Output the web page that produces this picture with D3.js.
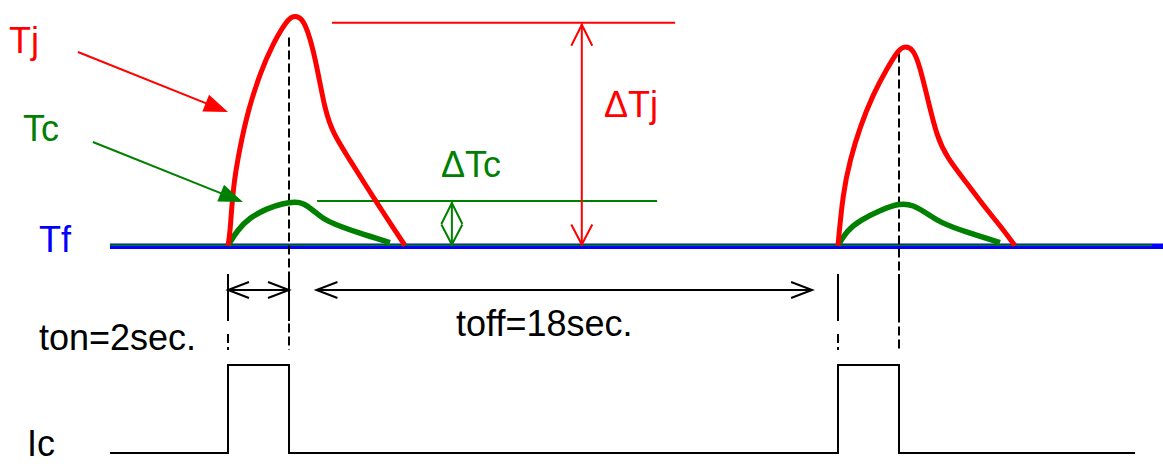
<!DOCTYPE html>
<html>
<head>
<meta charset="utf-8">
<script src="https://cdn.jsdelivr.net/npm/d3@7"></script>
<style>
  html, body { margin: 0; padding: 0; background: #fff; }
  svg { display: block; }
  text { font-family: "Liberation Sans", Arial, sans-serif; font-size: 36px; }
</style>
</head>
<body>
<svg id="chart" width="1163" height="464"></svg>
<script>
// Time in seconds (pulse 1 switches on at t = 0, pulse 2 at t = 20)
// Temperature rise above Tf in relative units (0 = Tf, 100 = Tj peak)

const tjPulse1 = [
  [0, 0], [0.07, 5.3], [0.16, 25.4], [0.39, 43], [0.66, 59.2], [1.05, 75.4],
  [1.48, 88.6], [1.93, 98.5], [2.13, 100.5], [2.43, 100], [2.69, 91.2],
  [2.92, 78.1], [3.18, 59.2], [3.44, 49.1], [4.0, 37.3], [4.56, 25.4],
  [4.98, 16.7], [5.41, 7.9], [5.8, 0]
];
const tjPulse2 = [
  [20, 0], [20.16, 22.8], [20.39, 37.3], [20.72, 51.8], [21.15, 66.2],
  [21.61, 77.5], [21.93, 84.5], [22.13, 87.3], [22.46, 86.5], [22.69, 78.1],
  [22.95, 63.6], [23.25, 47.4], [23.57, 38.6], [24.23, 27.2], [24.89, 15.4],
  [25.31, 8.8], [25.8, 0]
];
const tcPulse1 = [
  [0, 0], [0.3, 6.6], [0.72, 12.3], [1.28, 16.2], [1.8, 18.4], [2.2, 19.1],
  [2.46, 18.6], [2.79, 15.4], [3.11, 11.8], [3.44, 9.6], [4.23, 5.7], [5.31, 1.3]
];
const tcPulse2 = [
  [20, 0], [20.3, 6.6], [20.72, 11], [21.38, 15.4], [22.03, 18.6], [22.46, 17.8],
  [22.92, 14], [23.34, 10.1], [24.23, 5.7], [25.31, 1.3]
];
// Collector current: off / on steps
const icSteps = [[-3.87, 0], [0, 1], [2, 0], [20, 1], [22, 0], [29.74, 0]];

const tfSpan = [-3.87, 30.7];
const tcTrace = [-3.87, 30.3];

const deltaTjLevel = 97.5, deltaTjSpan = [3.41, 14.66], deltaTjAt = 11.6;
const deltaTcLevel = 19.5, deltaTcSpan = [2.92, 14.07], deltaTcAt = 7.34;

const onTimes = [0, 20];
const offTimes = [2, 22];
const offDashTop = [91, 84];

const tonSpan = [0, 2];
const toffSpan = [2.9, 19.15];

// pointer arrows from the Tj / Tc labels: [tail, tip]
const tjPointer = [[-4.92, 84.7], [0, 58.4]];
const tcPointer = [[-4.43, 45.3], [0.49, 19.0]];

const labels = ["Tj", "Tc", "Tf", "\u0394Tj", "\u0394Tc", "ton=2sec.", "toff=18sec.", "Ic"];

const RED = "#ff0000", GREEN = "#008000", BLUE = "#0000ff", BLACK = "#000";

const svg = d3.select("#chart");
const x = d3.scaleLinear().domain([0, 20]).range([228, 838]);
const yT = d3.scaleLinear().domain([0, 100]).range([245.5, 17]);
const yIc = d3.scaleLinear().domain([0, 1]).range([453, 365]);

const curve = d3.line().x(d => x(d[0])).y(d => yT(d[1])).curve(d3.curveBasis);

// open chevron head at (px, py) pointing along angle a
function chevron(px, py, a, len, half) {
  const ux = Math.cos(a), uy = Math.sin(a);
  const bx = px - ux * len, by = py - uy * len;
  return `M${bx - uy * half},${by + ux * half}L${px},${py}L${bx + uy * half},${by - ux * half}`;
}
function filledHead(px, py, a, len, half) {
  const ux = Math.cos(a), uy = Math.sin(a);
  const bx = px - ux * len, by = py - uy * len;
  return `M${bx - uy * half},${by + ux * half}L${px},${py}L${bx + uy * half},${by - ux * half}Z`;
}

// Tf baseline
svg.append("line")
  .attr("x1", x(tfSpan[0])).attr("x2", x(tfSpan[1]))
  .attr("y1", yT(0) + 0.8).attr("y2", yT(0) + 0.8)
  .attr("stroke", BLUE).attr("stroke-width", 5.5);
svg.append("line")
  .attr("x1", x(tcTrace[0])).attr("x2", x(tcTrace[1]))
  .attr("y1", yT(0) - 0.2).attr("y2", yT(0) - 0.2)
  .attr("stroke", GREEN).attr("stroke-width", 1.6);

// delta reference lines
svg.append("line")
  .attr("x1", x(deltaTjSpan[0])).attr("x2", x(deltaTjSpan[1]))
  .attr("y1", yT(deltaTjLevel)).attr("y2", yT(deltaTjLevel))
  .attr("stroke", RED).attr("stroke-width", 2);
svg.append("line")
  .attr("x1", x(deltaTcSpan[0])).attr("x2", x(deltaTcSpan[1]))
  .attr("y1", yT(deltaTcLevel)).attr("y2", yT(deltaTcLevel))
  .attr("stroke", GREEN).attr("stroke-width", 2);

// double-headed delta arrows
function vArrow(t, v0, v1, color) {
  const px = x(t), yTop = yT(v0), yBot = yT(v1);
  svg.append("line").attr("x1", px).attr("x2", px)
    .attr("y1", yTop + 1).attr("y2", yBot - 1)
    .attr("stroke", color).attr("stroke-width", 2);
  svg.append("path").attr("d", chevron(px, yTop + 2, -Math.PI / 2, 21, 10.5))
    .attr("fill", "none").attr("stroke", color).attr("stroke-width", 2);
  svg.append("path").attr("d", chevron(px, yBot - 1, Math.PI / 2, 20, 10.5))
    .attr("fill", "none").attr("stroke", color).attr("stroke-width", 2);
}
vArrow(deltaTjAt, deltaTjLevel, 0, RED);
vArrow(deltaTcAt, deltaTcLevel, 0, GREEN);

// dashed on/off markers
offTimes.forEach((t, i) => {
  svg.append("line").attr("x1", x(t)).attr("x2", x(t))
    .attr("y1", yT(offDashTop[i])).attr("y2", 350)
    .attr("stroke", BLACK).attr("stroke-width", 2).attr("stroke-dasharray", "9,4");
  svg.append("line").attr("x1", x(t)).attr("x2", x(t))
    .attr("y1", 274).attr("y2", 321)
    .attr("stroke", BLACK).attr("stroke-width", 2);
});
onTimes.forEach(t => {
  svg.append("line").attr("x1", x(t)).attr("x2", x(t))
    .attr("y1", 274).attr("y2", 350)
    .attr("stroke", BLACK).attr("stroke-width", 2)
    .attr("stroke-dasharray", "47,13,9,4,3,100");
});

// ton / toff arrows
function hArrow(t0, t1, yPos) {
  const a = x(t0), b = x(t1);
  svg.append("line").attr("x1", a).attr("x2", b).attr("y1", yPos).attr("y2", yPos)
    .attr("stroke", BLACK).attr("stroke-width", 2);
  svg.append("path").attr("d", chevron(a, yPos, Math.PI, 21, 8))
    .attr("fill", "none").attr("stroke", BLACK).attr("stroke-width", 2);
  svg.append("path").attr("d", chevron(b, yPos, 0, 21, 8))
    .attr("fill", "none").attr("stroke", BLACK).attr("stroke-width", 2);
}
hArrow(tonSpan[0], tonSpan[1], 290);
hArrow(toffSpan[0], toffSpan[1], 290);

// Tc and Tj traces
[tcPulse1, tcPulse2].forEach(p => {
  svg.append("path").attr("d", curve(p)).attr("fill", "none")
    .attr("stroke", GREEN).attr("stroke-width", 5.5).attr("stroke-linejoin", "round");
});
[tjPulse1, tjPulse2].forEach(p => {
  svg.append("path").attr("d", curve(p)).attr("fill", "none")
    .attr("stroke", RED).attr("stroke-width", 5).attr("stroke-linejoin", "round");
});

// label pointers
function pointer(seg, color) {
  const x0 = x(seg[0][0]), y0 = yT(seg[0][1]), x1 = x(seg[1][0]), y1 = yT(seg[1][1]);
  const a = Math.atan2(y1 - y0, x1 - x0);
  svg.append("line").attr("x1", x0).attr("y1", y0)
    .attr("x2", x1 - Math.cos(a) * 18).attr("y2", y1 - Math.sin(a) * 18)
    .attr("stroke", color).attr("stroke-width", 2);
  svg.append("path").attr("d", filledHead(x1, y1, a, 24, 9)).attr("fill", color);
}
pointer(tjPointer, RED);
pointer(tcPointer, GREEN);

// Ic waveform
svg.append("path")
  .attr("d", d3.line().x(d => x(d[0])).y(d => yIc(d[1])).curve(d3.curveStepAfter)(icSteps))
  .attr("fill", "none").attr("stroke", BLACK).attr("stroke-width", 2);

// text
const textSpec = [
  [labels[0], 9, 53, RED],
  [labels[1], 23, 141, GREEN],
  [labels[2], 39, 252, BLUE],
  [labels[3], 604, 117, RED],
  [labels[4], 441, 177, GREEN],
  [labels[5], 39, 350, BLACK],
  [labels[6], 456, 336, BLACK],
  [labels[7], 27, 456, BLACK]
];
svg.selectAll("text.lbl").data(textSpec).enter().append("text")
  .attr("class", "lbl")
  .attr("x", d => d[1]).attr("y", d => d[2])
  .attr("fill", d => d[3])
  .text(d => d[0]);
</script>
</body>
</html>
